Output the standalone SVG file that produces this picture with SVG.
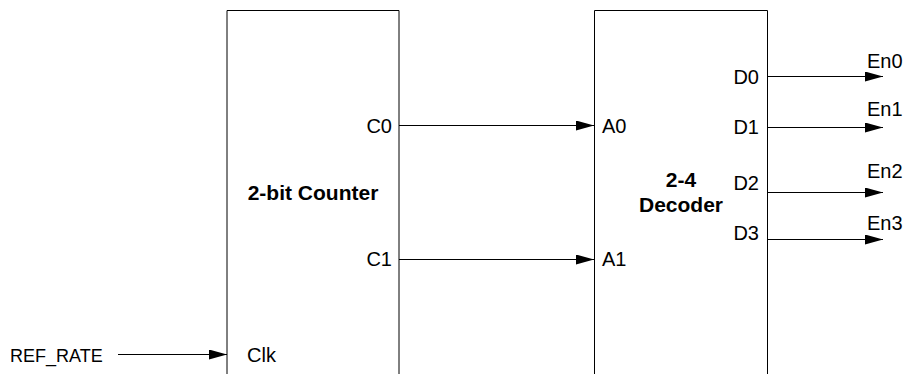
<svg xmlns="http://www.w3.org/2000/svg" width="908" height="374" viewBox="0 0 908 374">
<style>
.box{fill:#fff;stroke:#000;stroke-width:1}
.lbl{font-family:"Liberation Sans",Arial,sans-serif;font-size:20px;fill:#000}
.ttl{font-family:"Liberation Sans",Arial,sans-serif;font-size:21px;font-weight:bold;fill:#000;text-anchor:middle}
.w{stroke:#000;stroke-width:1;fill:none;marker-end:url(#ah)}
</style>
<defs>
<marker id="ah" markerUnits="userSpaceOnUse" markerWidth="18" markerHeight="10" refX="18" refY="5" orient="auto">
<path d="M0,0 L18,5 L0,10 Z" fill="#000"/>
</marker>
</defs>
<rect width="908" height="374" fill="#fff"/>
<g id="counter">
<path class="box" d="M227,380 L227,10.5 L399,10.5 L399,380"/>
<text class="ttl" x="313" y="200">2-bit Counter</text>
<text class="lbl" x="392" y="133" text-anchor="end">C0</text>
<text class="lbl" x="392" y="266" text-anchor="end">C1</text>
<text class="lbl" x="247" y="362">Clk</text>
</g>
<g id="decoder">
<path class="box" d="M594.5,380 L594.5,10.5 L767.5,10.5 L767.5,380"/>
<text class="ttl" x="681" y="187">2-4</text>
<text class="ttl" x="681" y="212">Decoder</text>
<text class="lbl" x="602" y="133">A0</text>
<text class="lbl" x="602" y="266">A1</text>
<text class="lbl" x="759" y="84" text-anchor="end">D0</text>
<text class="lbl" x="759" y="134" text-anchor="end">D1</text>
<text class="lbl" x="759" y="190" text-anchor="end">D2</text>
<text class="lbl" x="759" y="240" text-anchor="end">D3</text>
</g>
<g id="ref_rate">
<text class="lbl" x="10" y="362" style="font-size:18px">REF_RATE</text>
</g>
<g id="outputs">
<text class="lbl" x="867" y="68">En0</text>
<text class="lbl" x="867" y="116">En1</text>
<text class="lbl" x="867" y="178">En2</text>
<text class="lbl" x="867" y="230">En3</text>
</g>
<g id="connectors">
<line class="w" x1="118" y1="354.5" x2="227" y2="354.5"/>
<line class="w" x1="399" y1="125.5" x2="594" y2="125.5"/>
<line class="w" x1="399" y1="259.5" x2="594" y2="259.5"/>
<line class="w" x1="767" y1="76.5" x2="883" y2="76.5"/>
<line class="w" x1="767" y1="127.5" x2="883" y2="127.5"/>
<line class="w" x1="767" y1="192.5" x2="883" y2="192.5"/>
<line class="w" x1="767" y1="239.5" x2="883" y2="239.5"/>
</g>
</svg>
